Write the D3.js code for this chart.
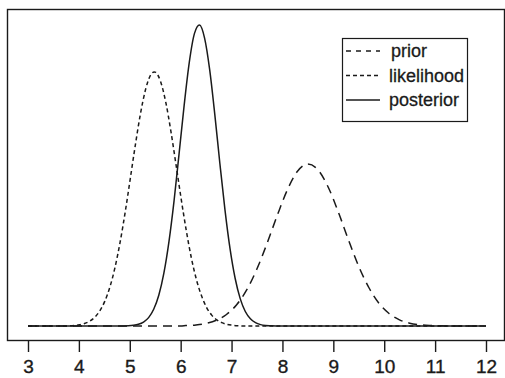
<!DOCTYPE html>
<html>
<head>
<meta charset="utf-8">
<script src="https://cdn.jsdelivr.net/npm/d3@7"></script>
<style>
  html, body { margin: 0; padding: 0; background: #fff; }
  svg { display: block; }
</style>
</head>
<body>
<svg id="chart" width="505" height="378"></svg>
<script>
// ======================
// Data (x value, density height)
// ======================
const xTicks = [3, 4, 5, 6, 7, 8, 9, 10, 11, 12];

const priorPoints = [
  [3, 0], [6.0, 0], [6.1, 0.0015], [6.3, 0.004], [6.5, 0.0094], [6.7, 0.0205],
  [6.9, 0.0412], [7.1, 0.0763], [7.3, 0.130], [7.5, 0.205], [7.7, 0.297],
  [7.9, 0.397], [8.1, 0.489], [8.3, 0.555], [8.5, 0.580], [8.7, 0.559],
  [8.9, 0.497], [9.1, 0.407], [9.3, 0.307], [9.5, 0.213], [9.7, 0.137],
  [9.9, 0.0807], [10.1, 0.044], [10.3, 0.022], [10.5, 0.0102], [10.7, 0.0043],
  [10.9, 0.0017], [11.1, 0.0006], [11.3, 0], [12, 0]
];

const likelihoodPoints = [
  [3, 0], [3.7, 0], [3.81, 0.0008], [3.91, 0.0021], [4.01, 0.0044], [4.11, 0.0088],
  [4.21, 0.017], [4.31, 0.031], [4.41, 0.054], [4.51, 0.089], [4.61, 0.140],
  [4.71, 0.210], [4.81, 0.300], [4.91, 0.408], [5.01, 0.528], [5.11, 0.649],
  [5.21, 0.760], [5.31, 0.847], [5.41, 0.899], [5.48, 0.910], [5.51, 0.908],
  [5.61, 0.873], [5.71, 0.799], [5.81, 0.695], [5.91, 0.576], [6.01, 0.455],
  [6.11, 0.342], [6.21, 0.244], [6.31, 0.166], [6.41, 0.108], [6.51, 0.066],
  [6.61, 0.039], [6.71, 0.022], [6.81, 0.012], [6.91, 0.006], [7.01, 0.003],
  [7.11, 0.001], [7.3, 0], [12, 0]
];

const posteriorPoints = [
  [3, 0], [4.8, 0], [4.97, 0.0009], [5.07, 0.0025], [5.17, 0.0061], [5.27, 0.0141],
  [5.37, 0.0301], [5.47, 0.0598], [5.57, 0.110], [5.67, 0.189], [5.77, 0.302],
  [5.87, 0.448], [5.97, 0.619], [6.07, 0.793], [6.17, 0.945], [6.27, 1.047],
  [6.37, 1.078], [6.47, 1.031], [6.57, 0.918], [6.67, 0.759], [6.77, 0.583],
  [6.87, 0.417], [6.97, 0.277], [7.07, 0.171], [7.17, 0.098], [7.27, 0.052],
  [7.37, 0.026], [7.47, 0.012], [7.57, 0.005], [7.67, 0.002], [7.77, 0.001],
  [7.95, 0], [12, 0]
];

const seriesNames = ["prior", "likelihood", "posterior"];

// ======================
// Setup
// ======================
const svg = d3.select("#chart");
const font = "'Liberation Sans', Arial, Helvetica, sans-serif";
const ink = "#1a1a1a";

const x = d3.scaleLinear().domain([3, 12]).range([28, 486]);
const y = d3.scaleLinear().domain([0, 1.078]).range([326, 25]);

const line = d3.line()
  .x(d => x(d[0]))
  .y(d => y(d[1]))
  .curve(d3.curveMonotoneX);

const styles = {
  prior: { dash: "9,6" },
  likelihood: { dash: "4,3" },
  posterior: { dash: null }
};

// Plot frame
svg.append("rect")
  .attr("x", 7.5)
  .attr("y", 9.5)
  .attr("width", 497)
  .attr("height", 331)
  .attr("fill", "none")
  .attr("stroke", ink)
  .attr("stroke-width", 1.4);

// ======================
// Curves
// ======================
const seriesData = { prior: priorPoints, likelihood: likelihoodPoints, posterior: posteriorPoints };

seriesNames.forEach(name => {
  svg.append("path")
    .datum(seriesData[name])
    .attr("d", line)
    .attr("fill", "none")
    .attr("stroke", ink)
    .attr("stroke-width", 1.5)
    .attr("stroke-dasharray", styles[name].dash);
});

// ======================
// X axis
// ======================
const xAxis = d3.axisBottom(x)
  .tickValues(xTicks)
  .tickFormat(d3.format("d"))
  .tickSize(11)
  .tickPadding(8);

const gx = svg.append("g")
  .attr("transform", "translate(0,341)")
  .call(xAxis);

gx.select(".domain").remove();
gx.selectAll(".tick line")
  .attr("stroke", ink)
  .attr("stroke-width", 1.4);
gx.selectAll(".tick text")
  .attr("fill", ink)
  .attr("stroke", ink)
  .attr("stroke-width", 0.35)
  .style("font-family", font)
  .style("font-size", "19px");

// ======================
// Legend
// ======================
const legend = svg.append("g").attr("transform", "translate(342,38)");

legend.append("rect")
  .attr("x", 0.5)
  .attr("y", 0.5)
  .attr("width", 125)
  .attr("height", 83)
  .attr("fill", "#fff")
  .attr("stroke", ink)
  .attr("stroke-width", 1.2);

seriesNames.forEach((name, i) => {
  const cy = 13 + i * 24.5;
  legend.append("line")
    .attr("x1", 4)
    .attr("x2", 38)
    .attr("y1", cy)
    .attr("y2", cy)
    .attr("stroke", ink)
    .attr("stroke-width", 1.4)
    .attr("stroke-dasharray", name === "prior" ? "5,5" : styles[name].dash);

  legend.append("text")
    .attr("x", name === "prior" ? 49 : 47)
    .attr("y", cy + 6)
    .text(name)
    .attr("fill", ink)
    .attr("stroke", ink)
    .attr("stroke-width", 0.3)
    .style("font-family", font)
    .style("font-size", "18px");
});
</script>
</body>
</html>
